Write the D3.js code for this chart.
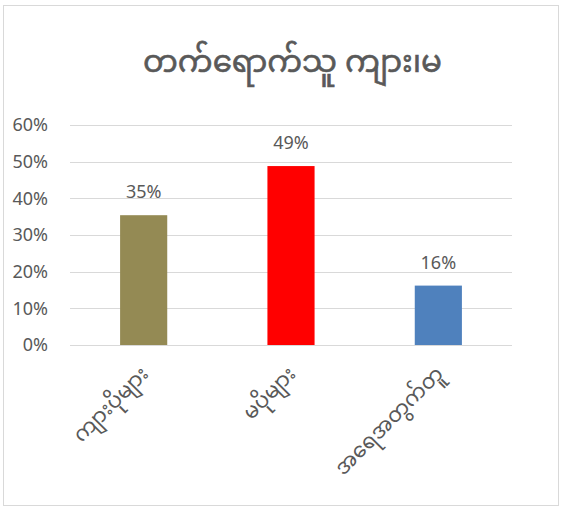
<!DOCTYPE html>
<html>
<head>
<meta charset="utf-8">
<script src="https://cdn.jsdelivr.net/npm/d3@7"></script>
<style>
  body { margin: 0; background: #fff; }
  text { font-family: "Noto Sans Myanmar", "Myanmar Text", "Calibri", "Carlito", "Open Sans", sans-serif; fill: #595959; }
</style>
</head>
<body>
<div id="chart"></div>
<script>
// chart data
const titleText = "တက်ရောက်သူ ကျား၊မ";
const categories = ["ကျားပိုများ", "မပိုများ", "အရေအတွက်တူ"];
const values = [0.354, 0.488, 0.162];
const barColors = ["#948A54", "#FF0000", "#4F81BD"];
const yTicks = [0, 0.1, 0.2, 0.3, 0.4, 0.5, 0.6];

const W = 561, H = 506;
const margin = {top: 125, right: 49, bottom: 161, left: 70},
      width = W - margin.left - margin.right,
      height = H - margin.top - margin.bottom;

const svg = d3.select("#chart").append("svg")
    .attr("width", W)
    .attr("height", H);

// outer border
svg.append("rect")
    .attr("x", 3.5).attr("y", 5.5)
    .attr("width", W - 6).attr("height", H - 6)
    .attr("fill", "none")
    .attr("stroke", "#D9D9D9");

// title
svg.append("text")
    .attr("x", W / 2 + 12)
    .attr("y", 72)
    .attr("text-anchor", "middle")
    .style("font-size", "31px")
    .style("stroke", "#595959")
    .style("stroke-width", "0.6px")
    .text(titleText);

const g = svg.append("g")
    .attr("transform", "translate(" + margin.left + "," + margin.top + ")");

const x = d3.scaleBand()
    .domain(categories)
    .range([0, width])
    .paddingInner(0.68)
    .paddingOuter(0.34);

const y = d3.scaleLinear()
    .domain([0, 0.6])
    .range([height, 0]);

// gridlines
g.append("g")
  .selectAll("line")
  .data(yTicks)
  .enter().append("line")
    .attr("x1", 0).attr("x2", width)
    .attr("y1", d => Math.round(y(d)) + 0.5)
    .attr("y2", d => Math.round(y(d)) + 0.5)
    .attr("stroke", "#D9D9D9")
    .attr("stroke-width", 1);

// y axis labels
g.append("g")
  .selectAll("text")
  .data(yTicks)
  .enter().append("text")
    .attr("x", -22)
    .attr("y", d => y(d))
    .attr("dy", "0.35em")
    .attr("text-anchor", "end")
    .style("font-size", "18px")
    .text(d3.format(".0%"));

// bars
g.selectAll("rect.bar")
  .data(values)
  .enter().append("rect")
    .attr("class", "bar")
    .attr("x", (d, i) => x(categories[i]))
    .attr("y", d => y(d))
    .attr("width", x.bandwidth())
    .attr("height", d => height - y(d))
    .style("fill", (d, i) => barColors[i]);

// value labels
g.selectAll("text.val")
  .data(values)
  .enter().append("text")
    .attr("class", "val")
    .attr("x", (d, i) => x(categories[i]) + x.bandwidth() / 2)
    .attr("y", d => y(d) - 17)
    .attr("text-anchor", "middle")
    .style("font-size", "18px")
    .text(d3.format(".0%"));

// category labels, rotated
g.selectAll("text.cat")
  .data(categories)
  .enter().append("text")
    .attr("class", "cat")
    .attr("text-anchor", "end")
    .style("font-size", "21px")
    .attr("transform", d => "translate(" + (x(d) + x.bandwidth() / 2 + 6) + "," + (height + 30) + ") rotate(-45)")
    .text(d => d);
</script>
</body>
</html>
